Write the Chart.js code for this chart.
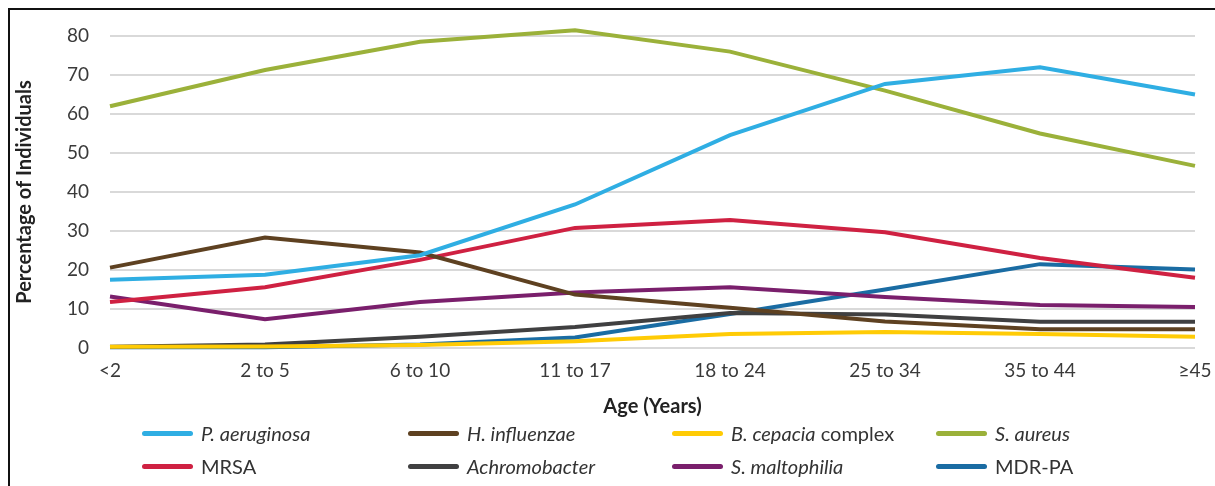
<!DOCTYPE html>
<html>
<head>
<meta charset="utf-8">
<script src="https://cdn.jsdelivr.net/npm/chart.js@4/dist/chart.umd.min.js"></script>
<style>
  html, body { margin: 0; padding: 0; background: #fff; }
  body { width: 1215px; height: 486px; position: relative; overflow: hidden; font-family: Lato, 'Open Sans', sans-serif; }
  #frame { position: absolute; left: 8px; top: 8px; right: -10px; bottom: -10px; border-left: 2px solid #111; border-top: 2px solid #111; }
  #chart { position: absolute; left: 0; top: 0; }
  .item { position: absolute; display: flex; align-items: center; font-size: 20px; color: #333; white-space: nowrap; }
  .swatch { width: 51px; height: 5px; border-radius: 3px; margin-right: 8px; }
</style>
</head>
<body>
<div id="frame"></div>
<canvas id="chart" width="1215" height="486"></canvas>
<div id="legend"></div>
<script>
const ageGroups = ['<2', '2 to 5', '6 to 10', '11 to 17', '18 to 24', '25 to 34', '35 to 44', '≥45'];

const pAeruginosa = [17.5, 18.8, 23.8, 36.8, 54.6, 67.7, 72.0, 65.0];
const hInfluenzae = [20.6, 28.3, 24.5, 13.7, 10.3, 6.8, 4.8, 4.8];
const bCepacia = [0.3, 0.4, 0.8, 1.7, 3.6, 4.1, 3.6, 2.9];
const sAureus = [62.0, 71.3, 78.5, 81.5, 76.0, 66.0, 55.0, 46.7];
const mrsa = [11.8, 15.6, 22.6, 30.8, 32.8, 29.7, 23.1, 18.0];
const achromobacter = [0.3, 0.9, 2.9, 5.4, 9.0, 8.6, 6.7, 6.7];
const sMaltophilia = [13.2, 7.4, 11.8, 14.2, 15.6, 13.1, 11.0, 10.5];
const mdrPa = [0.2, 0.2, 0.9, 2.7, 8.7, 15.0, 21.5, 20.1];

const seriesNames = ['P. aeruginosa', 'H. influenzae', 'B. cepacia complex', 'S. aureus',
                     'MRSA', 'Achromobacter', 'S. maltophilia', 'MDR-PA'];
const italicParts = ['P. aeruginosa', 'H. influenzae', 'B. cepacia', 'S. aureus',
                     '', 'Achromobacter', 'S. maltophilia', ''];
const plainParts = ['', '', ' complex', '', 'MRSA', '', '', 'MDR-PA'];
const seriesValues = [pAeruginosa, hInfluenzae, bCepacia, sAureus, mrsa, achromobacter, sMaltophilia, mdrPa];
const seriesColors = ['#2FAEE3', '#5E4121', '#FFCB05', '#9BB13A', '#CF2142', '#404041', '#7A1F6C', '#1A6CA3'];

const yTicks = [0, 10, 20, 30, 40, 50, 60, 70, 80];

const datasets = seriesNames.map((name, i) => ({
  label: name,
  data: seriesValues[i],
  borderColor: seriesColors[i],
  backgroundColor: seriesColors[i],
  borderWidth: 4,
  pointRadius: 0,
  tension: 0,
  fill: false,
  clip: false,
}));

new Chart(document.getElementById('chart'), {
  type: 'line',
  data: { labels: ageGroups, datasets },
  options: {
    responsive: false,
    animation: false,
    layout: { padding: { left: 10, right: 20, top: 36, bottom: 63 } },
    plugins: { legend: { display: false }, tooltip: { enabled: false } },
    scales: {
      x: {
        offset: false,
        grid: { display: false, drawTicks: false },
        border: { display: false },
        ticks: { color: '#3a3a3a', font: { family: 'Lato', size: 19 }, padding: 11, maxRotation: 0 },
        title: { display: true, text: 'Age (Years)', color: '#222', font: { family: 'Lato', size: 20, weight: 'bold' }, padding: { top: 0, bottom: 4 } },
        afterFit: (s) => { s.height = 75; s.paddingRight = 0; s.paddingLeft = 0; },
      },
      y: {
        min: 0,
        max: 80,
        afterBuildTicks: (s) => { s.ticks = yTicks.map(v => ({ value: v })); },
        grid: { color: '#d9d9d9', lineWidth: 2, drawTicks: false },
        border: { display: false },
        ticks: { color: '#3a3a3a', font: { family: 'Lato', size: 19 }, padding: 21 },
        title: { display: true, text: 'Percentage of Individuals', color: '#222', font: { family: 'Lato', size: 20, weight: 'bold' }, padding: { top: 3, bottom: 0 } },
        afterFit: (s) => { s.width = 100; },
      },
    },
  },
});

// legend: 4 columns x 2 rows, mixed italic text
const legendCols = [142, 408, 672, 936];
const legendRows = [433, 466];
const legendEl = document.getElementById('legend');
seriesNames.forEach((name, i) => {
  const item = document.createElement('div');
  item.className = 'item';
  item.style.left = legendCols[i % 4] + 'px';
  item.style.top = (legendRows[Math.floor(i / 4)] - 12) + 'px';
  item.style.height = '24px';
  const sw = document.createElement('span');
  sw.className = 'swatch';
  sw.style.background = seriesColors[i];
  item.appendChild(sw);
  const txt = document.createElement('span');
  if (italicParts[i]) {
    const em = document.createElement('i');
    em.textContent = italicParts[i];
    txt.appendChild(em);
  }
  if (plainParts[i]) {
    txt.appendChild(document.createTextNode(plainParts[i].replace(/^ /, '\u00a0')));
  }
  item.appendChild(txt);
  legendEl.appendChild(item);
});
</script>
</body>
</html>
